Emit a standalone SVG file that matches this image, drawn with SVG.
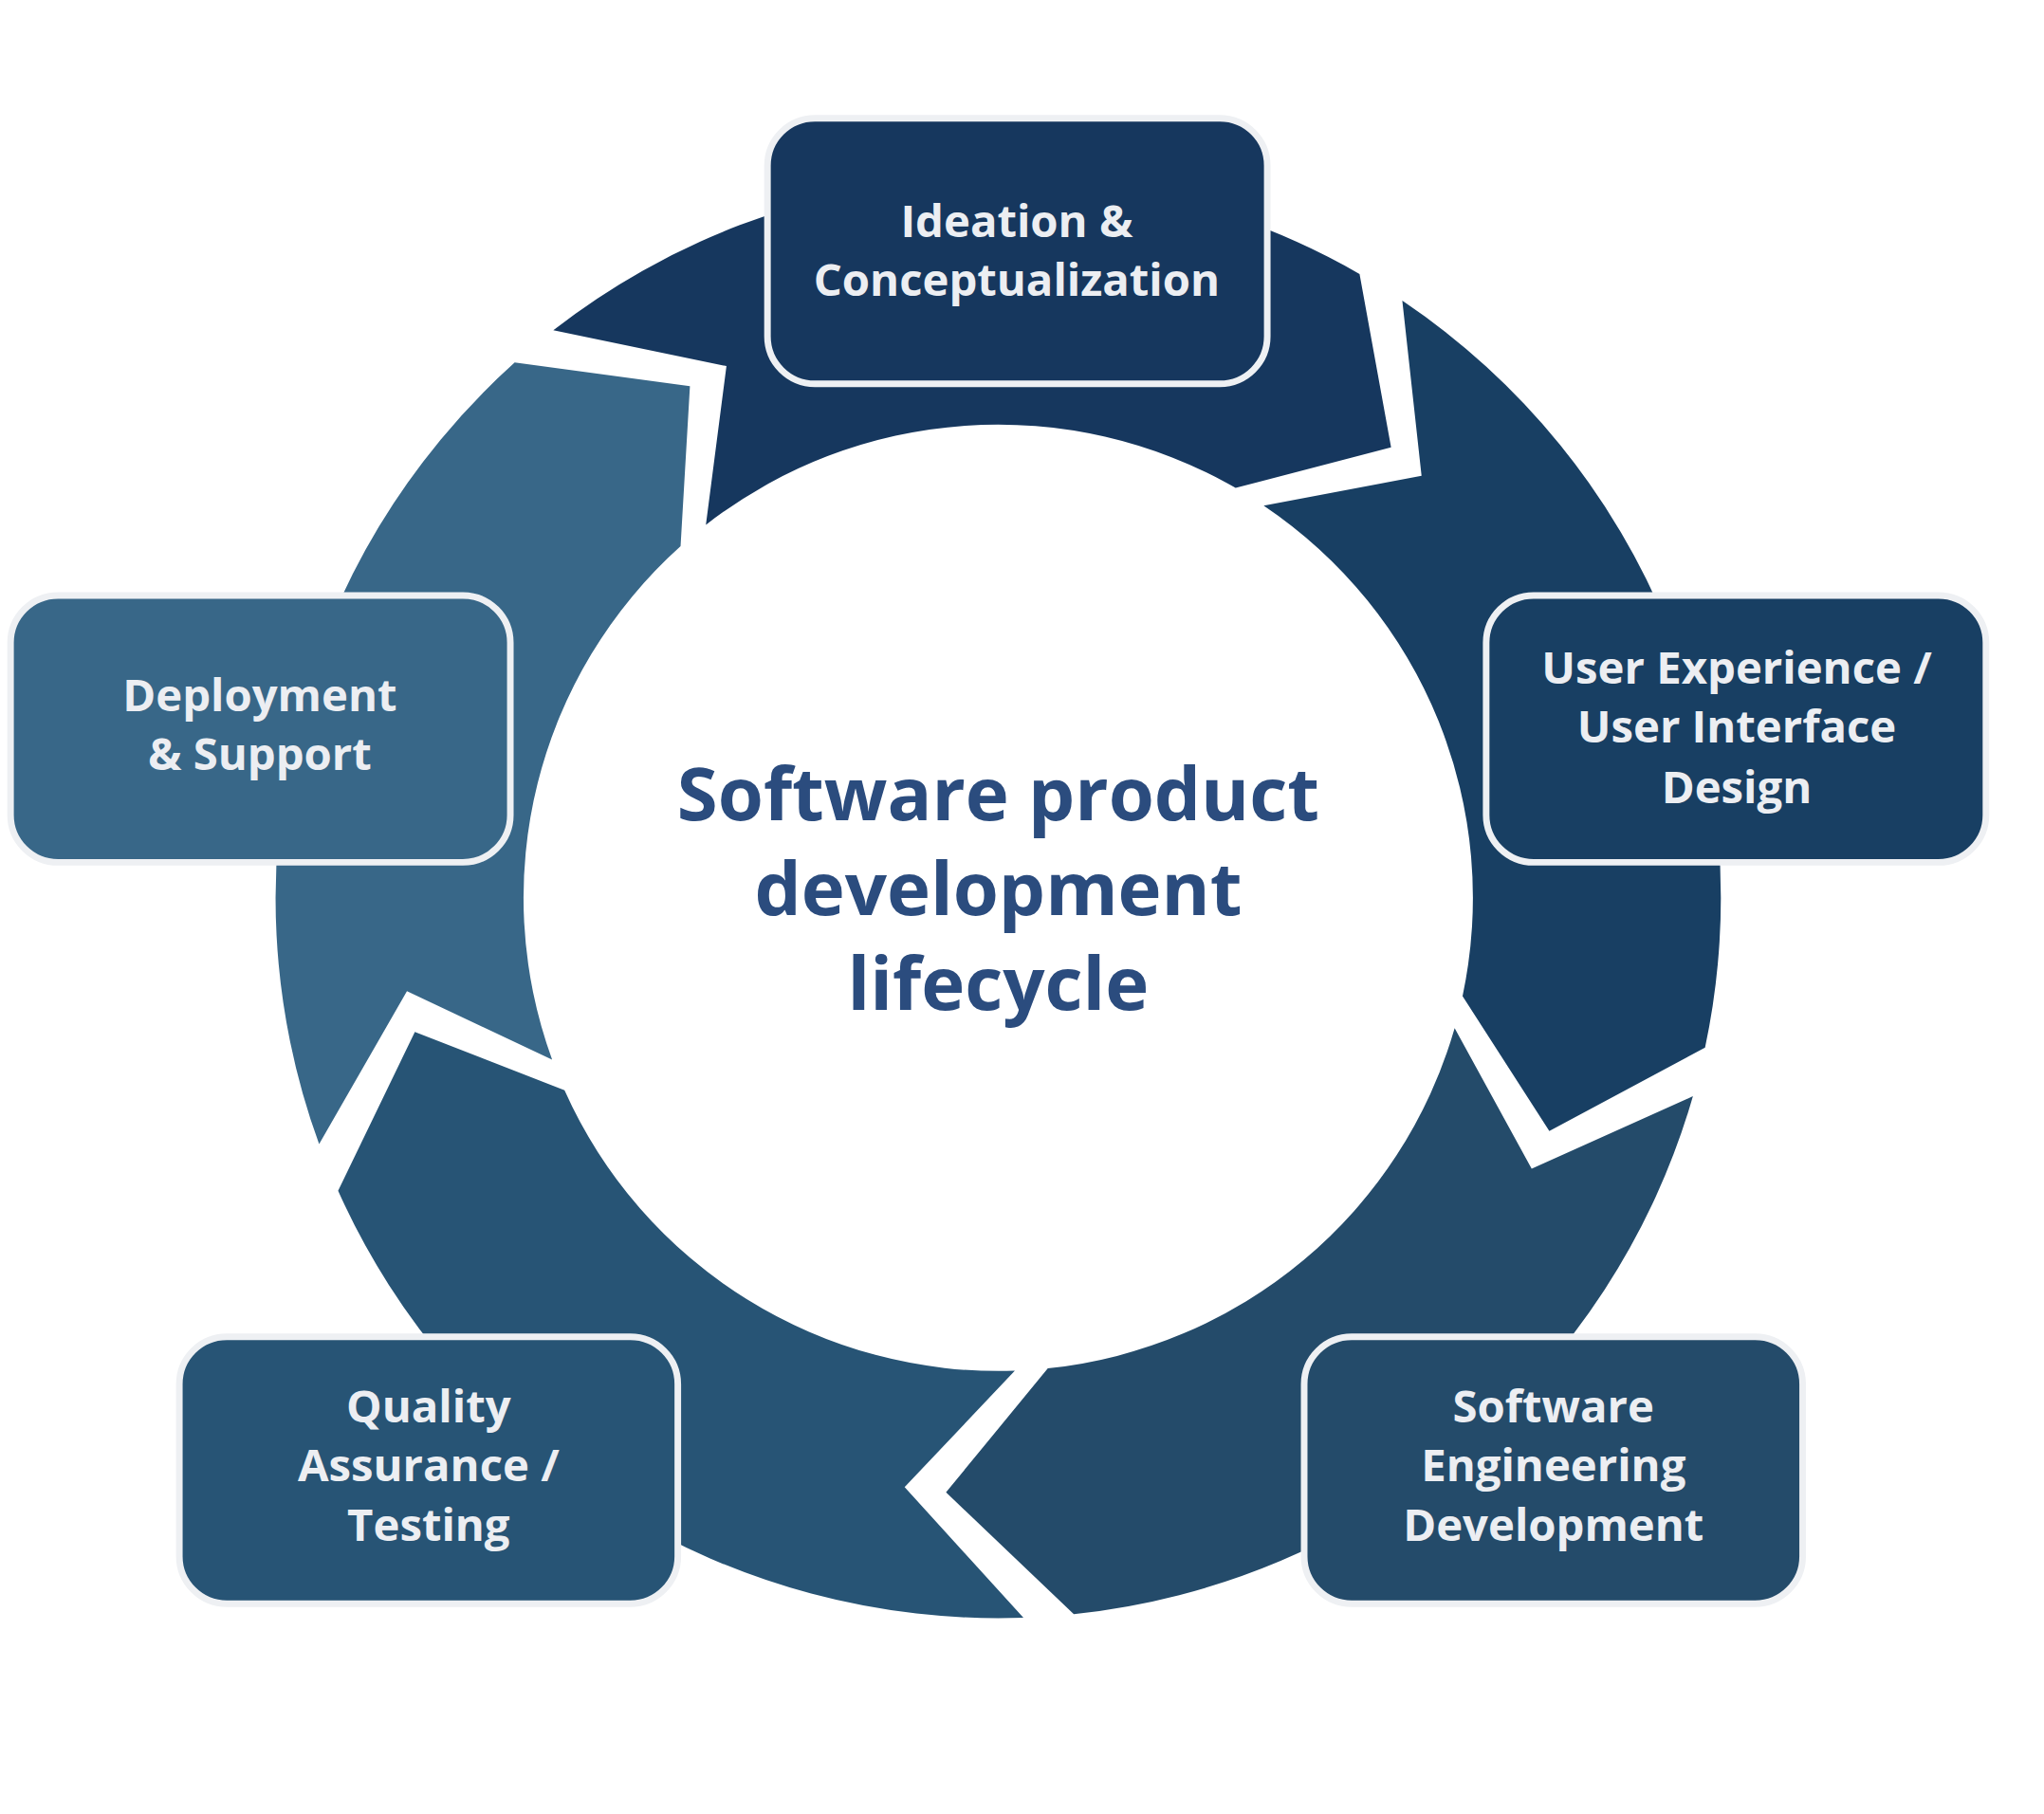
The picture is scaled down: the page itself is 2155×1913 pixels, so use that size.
<svg xmlns="http://www.w3.org/2000/svg" width="2155" height="1913" viewBox="0 0 2155 1913">
<style>
.box{stroke:#eef0f3;stroke-width:5}
.bt{font-family:"Open Sans","Liberation Sans",sans-serif;font-weight:700;font-size:34px;fill:#eceef2;text-anchor:middle}
.ct{font-family:"Open Sans","Liberation Sans",sans-serif;font-weight:700;font-size:56px;fill:#2b4c7e;text-anchor:middle}
</style>
<rect width="2155" height="1913" fill="#fff"/>
<g transform="scale(1.3903,1.3862)">
<g id="connectors">
<path d="M419.6,251.2 A548,548 0 0 1 1031,208.4 L1054.9,340.4 L937,371.2 A360,360 0 0 0 535.3,399.3 L550.9,278.5 Z" fill="#16375e"/>
<path d="M1063.4,228.7 A548,548 0 0 1 1293,796.9 L1174.9,860.4 L1109.1,757.8 A360,360 0 0 0 958.3,384.6 L1078,362 Z" fill="#183f63"/>
<path d="M1283.8,834 A548,548 0 0 1 814.3,1228 L717.4,1135.3 L794.6,1041 A360,360 0 0 0 1103.1,782.2 L1161.5,889.1 Z" fill="#244b6a"/>
<path d="M776.1,1230.7 A548,548 0 0 1 256.4,905.9 L314.6,785.1 L428.1,829.4 A360,360 0 0 0 769.6,1042.8 L686,1131.4 Z" fill="#275475"/>
<path d="M242,870.4 A548,548 0 0 1 390.3,275.8 L523.2,293.8 L516.1,415.5 A360,360 0 0 0 418.7,806.1 L308.6,754 Z" fill="#386788"/>
</g>
<g id="center"><text class="ct" x="757" y="624">Software product</text><text class="ct" x="757" y="696">development</text><text class="ct" x="757" y="768">lifecycle</text></g>
<g id="ideation"><rect class="box" x="582" y="90" width="379" height="202" rx="36" fill="#16375e"/><text class="bt" x="771" y="180">Ideation &amp;</text><text class="bt" x="771" y="225">Conceptualization</text></g>
<g id="ux"><rect class="box" x="1127" y="453" width="379" height="203" rx="36" fill="#183f63"/><text class="bt" x="1317" y="520">User Experience /</text><text class="bt" x="1317" y="565">User Interface</text><text class="bt" x="1317" y="611">Design</text></g>
<g id="se"><rect class="box" x="989" y="1017" width="378" height="203" rx="36" fill="#244b6a"/><text class="bt" x="1178" y="1082">Software</text><text class="bt" x="1178" y="1127">Engineering</text><text class="bt" x="1178" y="1172">Development</text></g>
<g id="qa"><rect class="box" x="136" y="1017" width="378" height="203" rx="36" fill="#275475"/><text class="bt" x="325" y="1082">Quality</text><text class="bt" x="325" y="1127">Assurance /</text><text class="bt" x="325" y="1172">Testing</text></g>
<g id="deploy"><rect class="box" x="8" y="453" width="379" height="203" rx="36" fill="#386788"/><text class="bt" x="197" y="541">Deployment</text><text class="bt" x="197" y="586">&amp; Support</text></g>
</g>
</svg>
